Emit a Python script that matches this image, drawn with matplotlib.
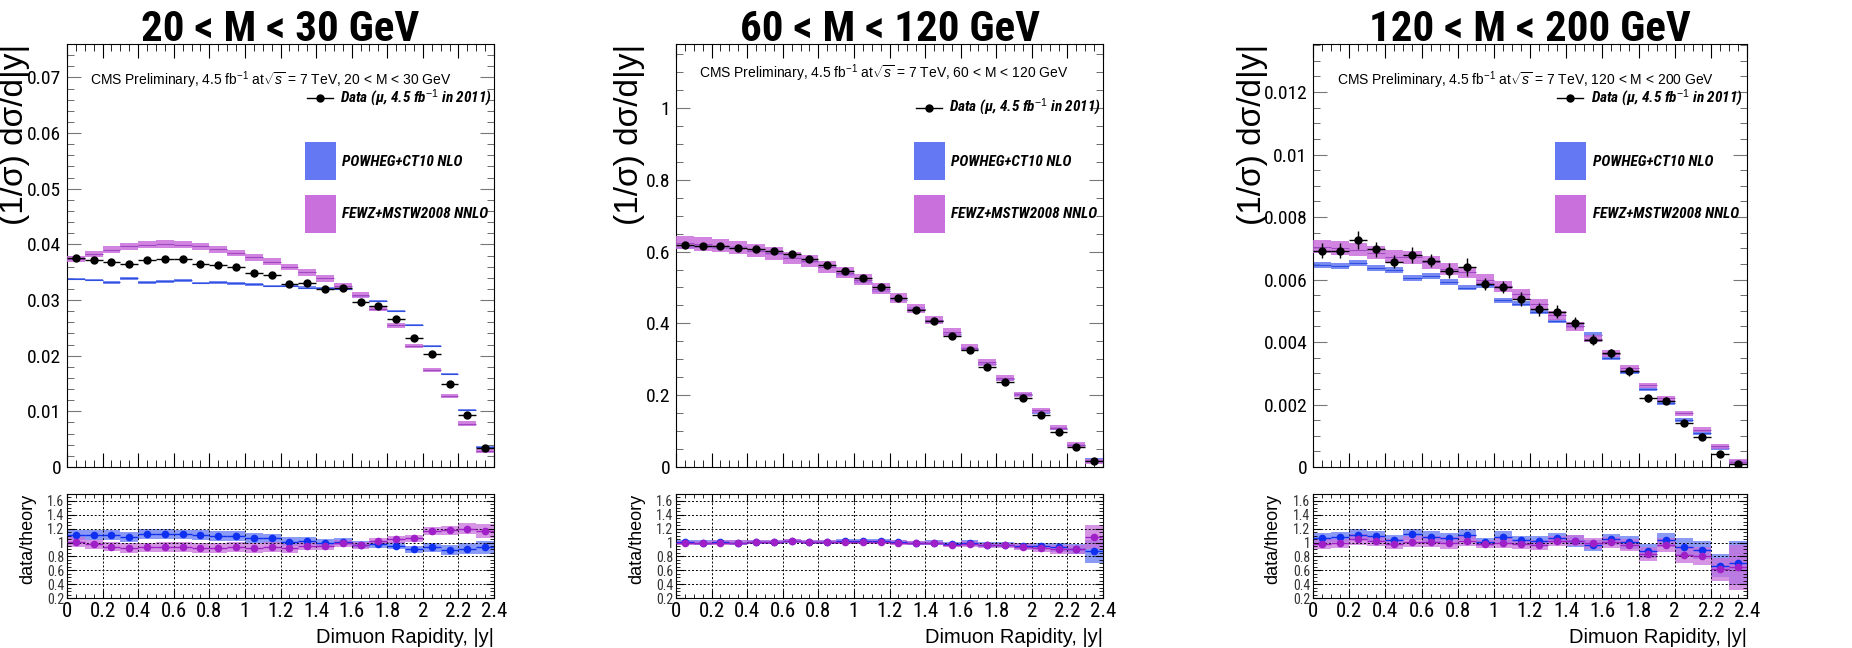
import matplotlib
matplotlib.use("Agg")

import numpy as np
import matplotlib.pyplot as plt
from matplotlib.ticker import MultipleLocator, FuncFormatter

plt.rcParams['font.family'] = ['Liberation Sans', 'DejaVu Sans']
plt.rcParams['mathtext.fontset'] = 'custom'
plt.rcParams['mathtext.rm'] = 'Liberation Sans'
plt.rcParams['mathtext.it'] = 'Liberation Sans:italic'
plt.rcParams['mathtext.bf'] = 'Liberation Sans:bold'
NARROW = ['Roboto Condensed', 'Liberation Sans', 'DejaVu Sans']

# rapidity bins, 0 .. 2.4 in steps of 0.1
bin_edges = [0.0, 0.1, 0.2, 0.3, 0.4, 0.5, 0.6, 0.7, 0.8, 0.9, 1.0, 1.1, 1.2,
             1.3, 1.4, 1.5, 1.6, 1.7, 1.8, 1.9, 2.0, 2.1, 2.2, 2.3, 2.4]

mass_titles = ["20 < M < 30 GeV", "60 < M < 120 GeV", "120 < M < 200 GeV"]
y_max = [0.076, 1.178, 0.01354]
y_major = [0.01, 0.2, 0.002]
y_minor = [0.002, 0.05, 0.0005]

# normalised cross sections, 20 < M < 30 GeV
data_1 = [0.03754, 0.03724, 0.03676, 0.03646, 0.03712, 0.03730, 0.03742, 0.03652,
          0.03622, 0.03592, 0.03483, 0.03447, 0.03291, 0.03309, 0.03195, 0.03225,
          0.02973, 0.02901, 0.02661, 0.02312, 0.02024, 0.01495, 0.00937, 0.00340]
data_err_1 = [0.0002] * 20 + [0.00018, 0.00015, 0.00012, 0.0001]
powheg_1 = [0.03375, 0.03357, 0.03315, 0.03387, 0.03315, 0.03333, 0.03351, 0.03309,
            0.03315, 0.03297, 0.03279, 0.03255, 0.03249, 0.03225, 0.03213, 0.03195,
            0.03075, 0.02979, 0.02799, 0.02553, 0.02180, 0.01676, 0.01027, 0.00366]
fewz_1 = [0.03736, 0.03826, 0.03904, 0.03964, 0.03994, 0.04006, 0.03994, 0.03964,
          0.03916, 0.03844, 0.03766, 0.03688, 0.03598, 0.03495, 0.03387, 0.03255,
          0.03087, 0.02847, 0.02547, 0.02174, 0.01742, 0.01273, 0.00781, 0.00290]
ratio_err_1 = [0.07, 0.07, 0.07, 0.07, 0.07, 0.07, 0.07, 0.07, 0.07, 0.07, 0.07, 0.07,
               0.06, 0.06, 0.05, 0.05, 0.05, 0.05, 0.05, 0.05, 0.06, 0.07, 0.08, 0.10]

# 60 < M < 120 GeV
data_2 = [0.6185, 0.6148, 0.6167, 0.6102, 0.6083, 0.6008, 0.5943, 0.5785,
          0.5626, 0.5468, 0.5263, 0.5012, 0.4704, 0.4369, 0.4052, 0.3642,
          0.3260, 0.2795, 0.2375, 0.1910, 0.1453, 0.0987, 0.0559, 0.0177]
data_err_2 = [0.003] * 20 + [0.0025, 0.002, 0.0015, 0.001]
powheg_2 = [0.6124, 0.6148, 0.6106, 0.6102, 0.6023, 0.5949, 0.5826, 0.5728,
            0.5570, 0.5361, 0.5160, 0.4914, 0.4657, 0.4413, 0.4052, 0.3716,
            0.3293, 0.2881, 0.2448, 0.2011, 0.1529, 0.1061, 0.0614, 0.0203]
fewz_2 = [0.6247, 0.6210, 0.6167, 0.6102, 0.6023, 0.5949, 0.5826, 0.5728,
          0.5570, 0.5414, 0.5211, 0.4962, 0.4704, 0.4413, 0.4093, 0.3755,
          0.3327, 0.2911, 0.2474, 0.2032, 0.1579, 0.1097, 0.0621, 0.0164]
ratio_err_2 = [0.03, 0.03, 0.03, 0.03, 0.03, 0.03, 0.03, 0.03, 0.03, 0.03, 0.03, 0.03,
               0.03, 0.03, 0.03, 0.03, 0.04, 0.04, 0.04, 0.05, 0.05, 0.06, 0.07, 0.17]

# 120 < M < 200 GeV
data_3 = [0.006925, 0.006925, 0.007265, 0.006968, 0.006575, 0.006787, 0.006606, 0.006288,
          0.006405, 0.005863, 0.005757, 0.005385, 0.005045, 0.004971, 0.004610, 0.004079,
          0.003643, 0.003059, 0.002199, 0.002124, 0.001423, 0.000967, 0.000404, 0.000106]
data_err_3 = [0.00025, 0.00025, 0.0003, 0.00025, 0.00022, 0.00025, 0.00022, 0.00025,
              0.0003, 0.0002, 0.0002, 0.00022, 0.0002, 0.0002, 0.00018, 0.00017,
              0.00015, 0.00015, 0.00012, 0.00012, 0.0001, 0.00008, 0.00006, 0.00004]
powheg_3 = [0.00648, 0.00643, 0.00654, 0.00637, 0.00631, 0.00606, 0.00611, 0.00592,
            0.00574, 0.00583, 0.00533, 0.00523, 0.00496, 0.00467, 0.00451, 0.00424,
            0.00349, 0.00305, 0.00250, 0.00206, 0.00151, 0.00108, 0.000605, 0.000150]
fewz_3 = [0.00705, 0.00701, 0.00695, 0.00686, 0.00673, 0.00671, 0.00655, 0.00633,
          0.00623, 0.00599, 0.00578, 0.00554, 0.00523, 0.00485, 0.00450, 0.00411,
          0.00363, 0.00318, 0.00262, 0.00220, 0.00172, 0.00119, 0.00066, 0.000165]
ratio_err_3 = [0.07, 0.07, 0.08, 0.07, 0.07, 0.08, 0.08, 0.08, 0.08, 0.06, 0.08, 0.07,
               0.07, 0.07, 0.08, 0.08, 0.08, 0.09, 0.10, 0.10, 0.12, 0.13, 0.17, 0.32]

# theory uncertainty (relative) and minimum drawn half-height of the bands
powheg_unc = [0.005, 0.004, 0.015]
fewz_unc = [0.016, 0.03, 0.03]
band_min = [[0.0002, 0.004, 0.00007], [0.0004, 0.007, 0.00008]]

panels = [
    (data_1, data_err_1, powheg_1, fewz_1, ratio_err_1),
    (data_2, data_err_2, powheg_2, fewz_2, ratio_err_2),
    (data_3, data_err_3, powheg_3, fewz_3, ratio_err_3),
]

BLUE_BAND = '#6378f2'
MAG_BAND = '#c970dc'
BLUE_PT = '#1030f0'
MAG_PT = '#a020c8'

W, H = 1852, 648
fig = plt.figure(figsize=(W / 100, H / 100), dpi=100)

# pixel boxes of each column: left, right
cols = [(67, 494), (676, 1103), (1313, 1747)]
main_top, main_bot = 44, 467
rat_top, rat_bot = 494, 598
ylab_x = [-0.124, -0.108, -0.14]
cms_y = [0.915, 0.93, 0.915]
data_leg_y = [0.872, 0.849, 0.872]

edges = np.array(bin_edges)
lo = edges[:-1]
centers = 0.5 * (edges[:-1] + edges[1:])
widths = np.diff(edges)

for k, (data, derr, pw, fw, rerr) in enumerate(panels):
    left, right = cols[k]
    data = np.array(data)
    derr = np.array(derr)
    pw = np.array(pw)
    fw = np.array(fw)
    rerr = np.array(rerr)

    ax = fig.add_axes([left / W, (H - main_bot) / H, (right - left) / W,
                       (main_bot - main_top) / H])
    rx = fig.add_axes([left / W, (H - rat_bot) / H, (right - left) / W,
                       (rat_bot - rat_top) / H])

    # theory bands
    pw_err = np.maximum(pw * powheg_unc[k], band_min[0][k])
    fw_err = np.maximum(fw * fewz_unc[k], band_min[1][k])
    ax.bar(lo, 2 * pw_err, bottom=pw - pw_err, width=widths, align='edge',
           color=BLUE_BAND, alpha=0.85, linewidth=0, zorder=2)
    ax.hlines(pw, lo, lo + widths, color='#3050e0', lw=0.8, zorder=2.1)
    ax.bar(lo, 2 * fw_err, bottom=fw - fw_err, width=widths, align='edge',
           color=MAG_BAND, alpha=0.85, linewidth=0, zorder=3)
    ax.hlines(fw, lo, lo + widths, color='#a048c0', lw=0.8, zorder=3.1)

    # data
    ax.errorbar(centers, data, xerr=widths / 2, yerr=derr, fmt='o', color='black',
                ms=5, elinewidth=1.0, capsize=0, zorder=5)

    ax.set_xlim(0, 2.4)
    ax.set_ylim(0, y_max[k])
    ax.xaxis.set_major_locator(MultipleLocator(0.2))
    ax.xaxis.set_minor_locator(MultipleLocator(0.05))
    ax.yaxis.set_major_locator(MultipleLocator(y_major[k]))
    ax.yaxis.set_minor_locator(MultipleLocator(y_minor[k]))
    ax.yaxis.set_major_formatter(FuncFormatter(lambda v, p: '%g' % round(v, 6)))
    ax.tick_params(axis='both', which='both', direction='in', top=True, right=True)
    ax.tick_params(axis='x', which='major', length=10, labelbottom=False)
    ax.tick_params(axis='x', which='minor', length=5)
    ax.tick_params(axis='y', which='major', length=10, color='#777777', labelsize=14, pad=4)
    ax.tick_params(axis='y', which='minor', length=5, color='#555555')
    for lab in ax.get_yticklabels():
        lab.set_family(NARROW)

    ax.text(ylab_x[k], 1.0, '(1/σ) dσ/d|y|', transform=ax.transAxes,
            rotation=90, rotation_mode='anchor', ha='right', va='center', fontsize=24)
    fig.text((left + right) / 2 / W, 1 - 41 / H, mass_titles[k], ha='center',
             va='baseline', fontsize=31, fontweight='bold', family=NARROW)
    ax.text(0.055, cms_y[k],
            r'CMS Preliminary, 4.5 fb$^{-1}$ at$\sqrt{s}$ = 7 TeV, ' + mass_titles[k],
            transform=ax.transAxes, ha='left', va='center', fontsize=10)

    # legend, drawn by hand in axes coordinates
    ly = data_leg_y[k]
    ax.plot([0.562, 0.623], [ly, ly], color='black', lw=1, transform=ax.transAxes,
            clip_on=False)
    ax.plot([0.5925], [ly], 'o', color='black', ms=5, transform=ax.transAxes)
    leg_font = dict(transform=ax.transAxes, ha='left', va='center', fontsize=11,
                    style='italic', fontweight='bold', family=NARROW)
    ax.text(0.64, ly, 'Data (μ, 4.5 fb$^{-1}$ in 2011)', **leg_font)
    ax.add_patch(plt.Rectangle((0.557, 0.678), 0.073, 0.09, transform=ax.transAxes,
                               color=BLUE_BAND, lw=0))
    ax.text(0.645, 0.722, 'POWHEG+CT10 NLO', **leg_font)
    ax.add_patch(plt.Rectangle((0.557, 0.553), 0.073, 0.09, transform=ax.transAxes,
                               color=MAG_BAND, lw=0))
    ax.text(0.645, 0.598, 'FEWZ+MSTW2008 NNLO', **leg_font)

    # ratio panel
    for th, band, pt in ((pw, BLUE_BAND, BLUE_PT), (fw, MAG_BAND, MAG_PT)):
        r = data / th
        rx.bar(lo, 2 * rerr, bottom=r - rerr, width=widths, align='edge',
               color=band, alpha=0.75, linewidth=0, zorder=2)
        rx.errorbar(centers, r, xerr=widths / 2, fmt='o', color=pt, ms=4.5,
                    elinewidth=1.0, capsize=0, zorder=3)
    rx.set_xlim(0, 2.4)
    rx.set_ylim(0.2, 1.7)
    rx.xaxis.set_major_locator(MultipleLocator(0.2))
    rx.xaxis.set_minor_locator(MultipleLocator(0.05))
    rx.yaxis.set_major_locator(MultipleLocator(0.2))
    rx.yaxis.set_minor_locator(MultipleLocator(0.05))
    fmt = FuncFormatter(lambda v, p: '%g' % round(v, 3))
    rx.xaxis.set_major_formatter(fmt)
    rx.yaxis.set_major_formatter(fmt)
    rx.grid(True, which='major', color='black', linestyle=(0, (2, 2)), lw=0.7)
    rx.set_axisbelow(False)
    rx.tick_params(axis='both', which='both', direction='in', top=True, right=True)
    rx.tick_params(axis='both', which='major', length=6)
    rx.tick_params(axis='both', which='minor', length=3)
    rx.tick_params(axis='y', labelsize=10, labelcolor='#333333', pad=2)
    rx.tick_params(axis='x', labelsize=15, pad=3)
    for lab in rx.get_xticklabels() + rx.get_yticklabels():
        lab.set_family(NARROW)
    rx.text(-0.092, 1.0, 'data/theory', transform=rx.transAxes, rotation=90,
            rotation_mode='anchor', ha='right', va='center', fontsize=13)
    rx.text(1.0, -0.43, 'Dimuon Rapidity, |y|', transform=rx.transAxes, ha='right',
            va='baseline', fontsize=14.5)

fig.savefig('out.png', dpi=100)
